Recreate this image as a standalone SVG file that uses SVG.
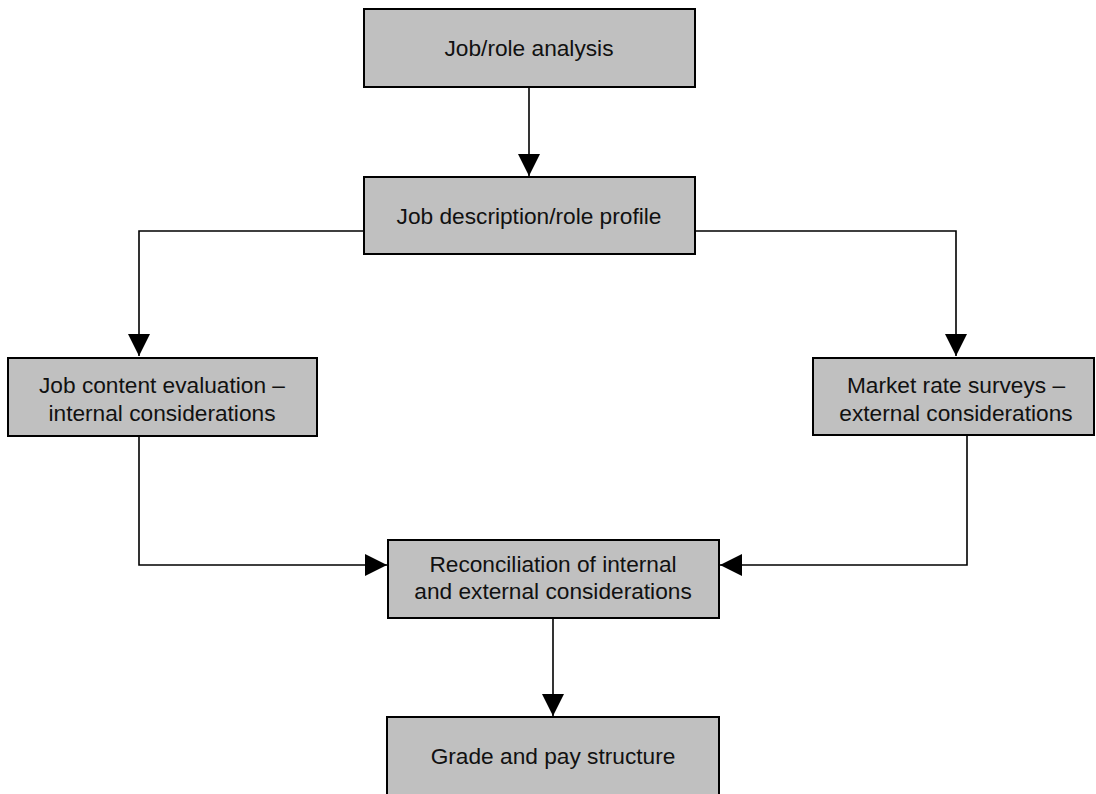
<svg xmlns="http://www.w3.org/2000/svg" width="1096" height="794" viewBox="0 0 1096 794">
  <defs>
    <style>
      .box { fill: #c0c0c0; stroke: #000; stroke-width: 2; }
      .lbl { font-family: "Liberation Sans", Arial, sans-serif; font-size: 22.7px; fill: #111; text-anchor: middle; }
      .edge { fill: none; stroke: #000; stroke-width: 1.6; }
    </style>
    <marker id="arrow" viewBox="0 0 22 22" refX="22" refY="11" markerWidth="22" markerHeight="22" markerUnits="userSpaceOnUse" orient="auto">
      <path d="M0,0 L22,11 L0,22 Z" fill="#000"/>
    </marker>
  </defs>
  <rect width="1096" height="794" fill="#fff"/>

  <g id="connectors">
    <path class="edge" d="M529,87 V176" marker-end="url(#arrow)"/>
    <path class="edge" d="M364,231 H139 V356" marker-end="url(#arrow)"/>
    <path class="edge" d="M695,231 H956 V356" marker-end="url(#arrow)"/>
    <path class="edge" d="M139,436 V565 H387" marker-end="url(#arrow)"/>
    <path class="edge" d="M967,436 V565 H720" marker-end="url(#arrow)"/>
    <path class="edge" d="M553,618 V716" marker-end="url(#arrow)"/>
  </g>

  <g id="job-role-analysis">
    <rect class="box" x="364" y="9" width="331" height="78"/>
    <text class="lbl" x="529" y="56">Job/role analysis</text>
  </g>

  <g id="job-description">
    <rect class="box" x="364" y="177" width="331" height="77"/>
    <text class="lbl" x="529" y="224">Job description/role profile</text>
  </g>

  <g id="job-content-evaluation">
    <rect class="box" x="8" y="358" width="309" height="78"/>
    <text class="lbl" x="162" y="393">Job content evaluation –</text>
    <text class="lbl" x="162" y="421">internal considerations</text>
  </g>

  <g id="market-rate-surveys">
    <rect class="box" x="813" y="358" width="281" height="77"/>
    <text class="lbl" x="956" y="393">Market rate surveys –</text>
    <text class="lbl" x="956" y="421">external considerations</text>
  </g>

  <g id="reconciliation">
    <rect class="box" x="388" y="540" width="331" height="78"/>
    <text class="lbl" x="553" y="572">Reconciliation of internal</text>
    <text class="lbl" x="553" y="599">and external considerations</text>
  </g>

  <g id="grade-and-pay">
    <rect class="box" x="387" y="717" width="332" height="90"/>
    <text class="lbl" x="553" y="764">Grade and pay structure</text>
  </g>
</svg>
